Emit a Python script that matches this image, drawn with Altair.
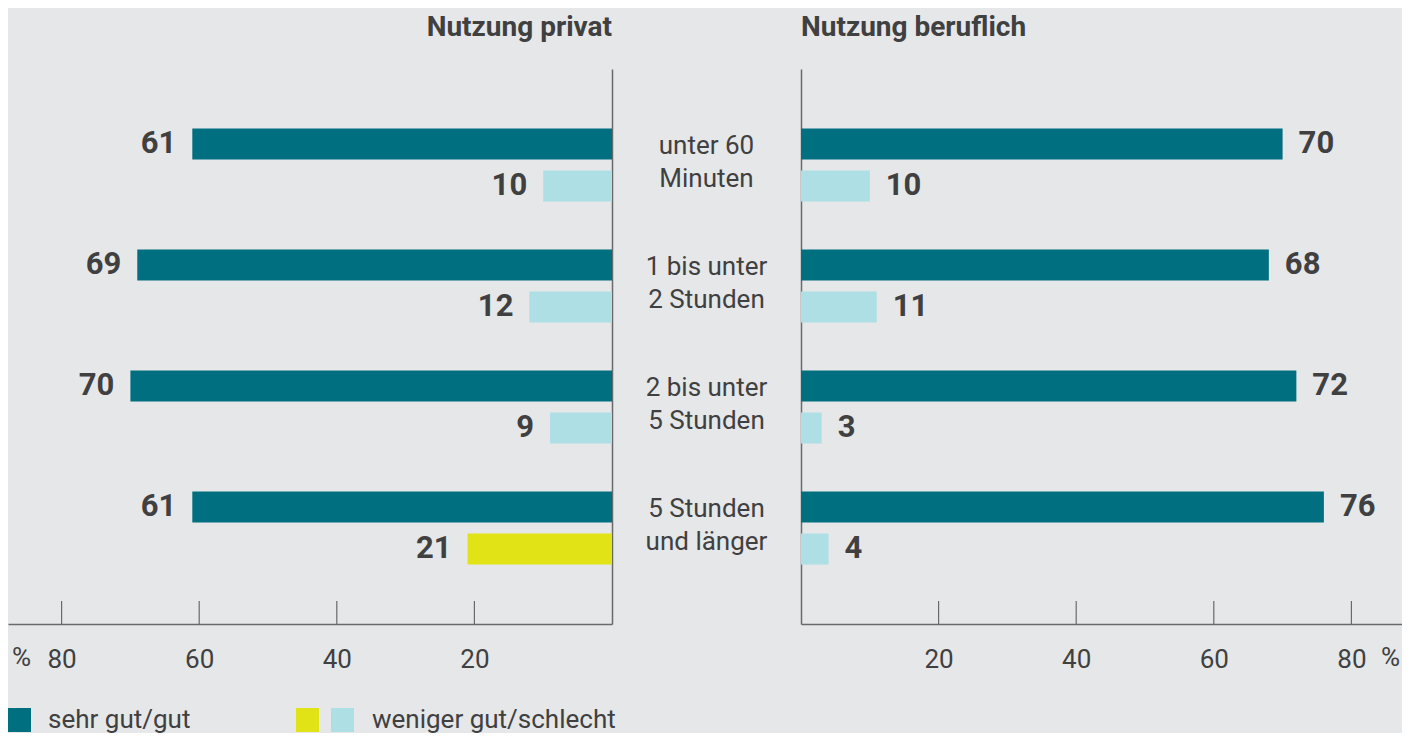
import altair as alt
import pandas as pd

# ---- data ----
KATEGORIEN = ["unter 60\nMinuten", "1 bis unter\n2 Stunden",
              "2 bis unter\n5 Stunden", "5 Stunden\nund länger"]
PRIVAT_GUT = [61, 69, 70, 61]
PRIVAT_WENIGER = [10, 12, 9, 21]
BERUF_GUT = [70, 68, 72, 76]
BERUF_WENIGER = [10, 11, 3, 4]
PRIVAT_HERVORGEHOBEN = [False, False, False, True]
BERUF_HERVORGEHOBEN = [False, False, False, False]
TICKS = [20, 40, 60, 80]
SERIEN = ["gut", "weniger"]
LEGENDE = ["sehr gut/gut", "weniger gut/schlecht"]

# ---- style ----
TEAL = "#006f80"
HELL = "#addfe4"
GELB = "#e2e317"
BG = "#e6e7e9"
TXT = "#404040"
AXIS = "#6a6a6a"
FONT = "Roboto"

W_L, W_M, W_R, H = 604, 189, 601, 555
PX_PER = 6.88
DOM_L = W_L / PX_PER
DOM_R = W_R / PX_PER


def frame(gut, weniger, hl):
    rows = []
    for i, k in enumerate(KATEGORIEN):
        rows.append(dict(kat=k, serie="gut", wert=gut[i], farbe="gut"))
        rows.append(dict(kat=k, serie="weniger", wert=weniger[i],
                         farbe="hl" if hl[i] else "weniger"))
    return pd.DataFrame(rows)


y_scale = alt.Scale(type="band", domain=KATEGORIEN, paddingInner=0.2,
                    paddingOuter=0.393)
yoff_scale = alt.Scale(type="band", domain=SERIEN, paddingInner=0.262,
                       paddingOuter=0.283)
color_scale = alt.Scale(domain=["gut", "weniger", "hl"], range=[TEAL, HELL, GELB])

TITLE_KW = dict(fontSize=28, fontWeight="bold", font=FONT, color=TXT,
                baseline="alphabetic", offset=5)


def panel(df, left, title):
    dom = DOM_L if left else DOM_R
    xs = alt.Scale(domain=[0, dom], reverse=left, nice=False, zero=True)
    x_axis = alt.Axis(values=TICKS, ticks=False, grid=False, title=None,
                      domain=True, domainColor=AXIS, domainWidth=1.5,
                      labelFontSize=26, labelFont=FONT, labelColor=TXT,
                      labelPadding=22, labelFlush=False)
    y_axis = alt.Axis(orient="right" if left else "left", labels=False,
                      ticks=False, grid=False, title=None, domain=True,
                      domainColor=AXIS, domainWidth=1.5)
    base = alt.Chart(df)
    bars = base.mark_bar().encode(
        x=alt.X("wert:Q", scale=xs, axis=x_axis),
        y=alt.Y("kat:N", scale=y_scale, axis=y_axis, sort=KATEGORIEN),
        yOffset=alt.YOffset("serie:N", scale=yoff_scale),
        color=alt.Color("farbe:N", scale=color_scale, legend=None),
    )
    labels = base.mark_text(
        align="right" if left else "left", dx=-16 if left else 16,
        baseline="middle", fontSize=31, fontWeight="bold", font=FONT, color=TXT,
    ).encode(
        x=alt.X("wert:Q", scale=xs),
        y=alt.Y("kat:N", scale=y_scale, sort=KATEGORIEN),
        yOffset=alt.YOffset("serie:N", scale=yoff_scale),
        text=alt.Text("wert:Q"),
    )
    ticks = alt.Chart(pd.DataFrame({"wert": TICKS})).mark_rule(
        color=AXIS, strokeWidth=1.2
    ).encode(
        x=alt.X("wert:Q", scale=xs),
        y=alt.value(H - 23), y2=alt.value(H),
    )
    pct = alt.Chart(pd.DataFrame({"t": ["%"]})).mark_text(
        fontSize=26, font=FONT, color=TXT, baseline="middle",
        align="left" if left else "right",
    ).encode(
        text="t:N",
        x=alt.value(4 if left else W_R - 2),
        y=alt.value(H + 34),
    )
    return alt.layer(bars, labels, ticks, pct).properties(
        width=W_L if left else W_R, height=H,
        title=alt.TitleParams(title, anchor="end" if left else "start", **TITLE_KW),
    )


links = panel(frame(PRIVAT_GUT, PRIVAT_WENIGER, PRIVAT_HERVORGEHOBEN), True,
              "Nutzung privat")
rechts = panel(frame(BERUF_GUT, BERUF_WENIGER, BERUF_HERVORGEHOBEN), False,
               "Nutzung beruflich")

mitte = alt.Chart(pd.DataFrame({"kat": KATEGORIEN})).mark_text(
    fontSize=26, font=FONT, color=TXT, lineBreak="\n", lineHeight=33,
    baseline="middle", align="center", dy=-19,
).encode(
    y=alt.Y("kat:N", scale=y_scale, axis=None, sort=KATEGORIEN),
    x=alt.value(W_M / 2),
    text="kat:N",
).properties(
    width=W_M, height=H,
    title=alt.TitleParams(" ", **TITLE_KW),
)

leg_df = pd.DataFrame({
    "x": [0, 288, 323], "x2": [23, 311, 346],
    "farbe": ["gut", "hl", "weniger"],
})
leg_sq = alt.Chart(leg_df).mark_rect().encode(
    x=alt.X("x:Q", scale=alt.Scale(domain=[0, 1394], range=[0, 1394]), axis=None),
    x2="x2:Q",
    y=alt.value(0), y2=alt.value(24),
    color=alt.Color("farbe:N", scale=color_scale, legend=None),
)
leg_txt = alt.Chart(pd.DataFrame({"x": [40, 364], "t": LEGENDE})).mark_text(
    fontSize=26, font=FONT, color=TXT, align="left", baseline="middle",
).encode(
    x=alt.X("x:Q", scale=alt.Scale(domain=[0, 1394], range=[0, 1394]), axis=None),
    y=alt.value(12),
    text="t:N",
)
legende = alt.layer(leg_sq, leg_txt).properties(width=1394, height=24)

top = alt.hconcat(links, mitte, rechts, spacing=0)
chart = alt.vconcat(top, legende, spacing=35).properties(
    padding={"left": 0, "top": 6, "right": 0, "bottom": 0},
).configure(background=BG).configure_view(stroke=None)

chart.save("out.html", embed_options={"renderer": "svg", "actions": False})
